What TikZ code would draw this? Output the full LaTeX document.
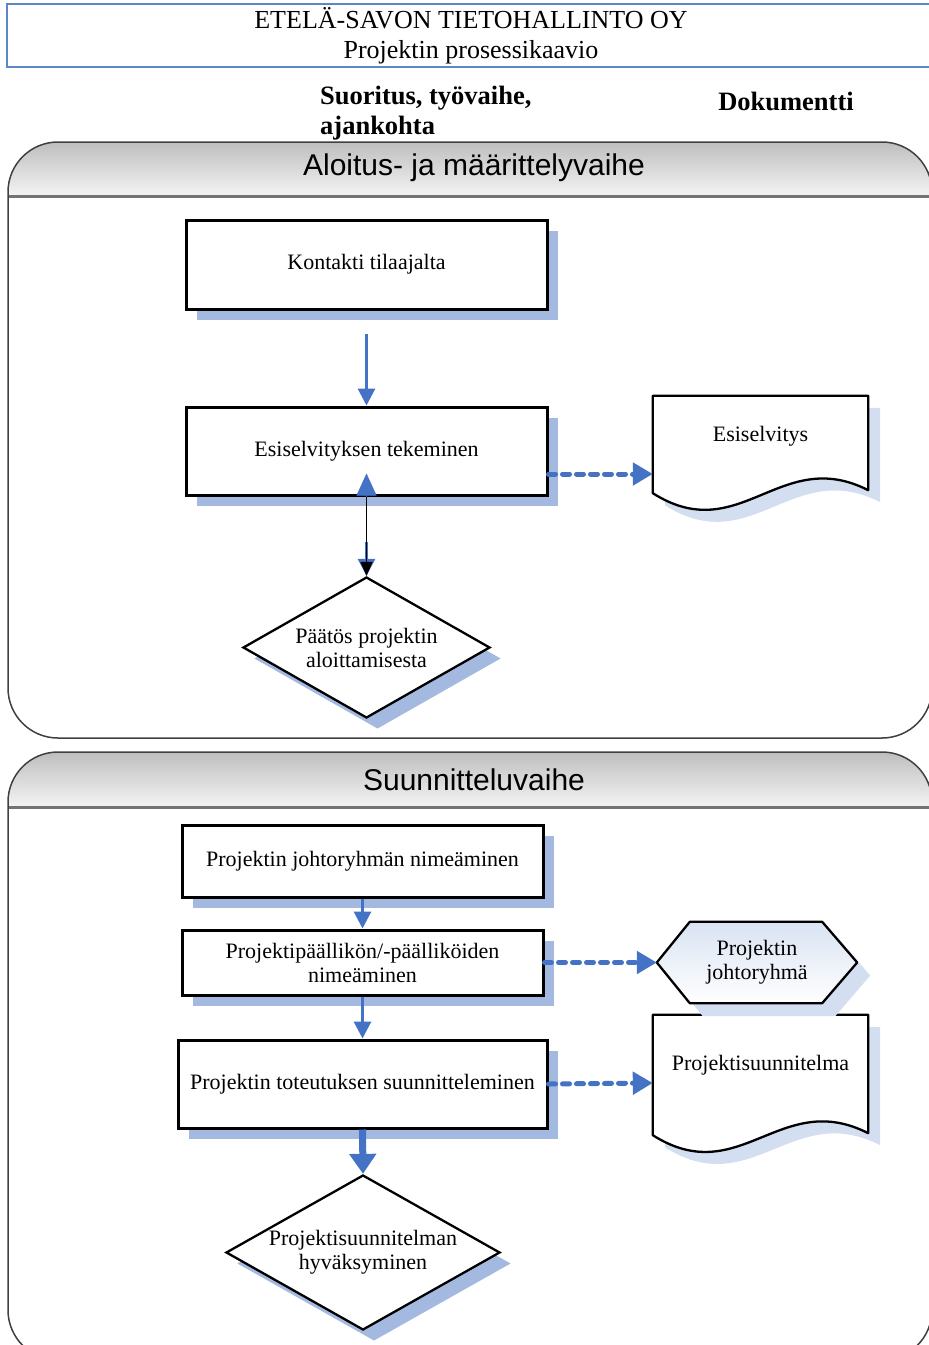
\documentclass[tikz,border=0pt]{standalone}
\usepackage{fontspec}
\setmainfont{Liberation Serif}
\newfontfamily\lanefont{Liberation Sans}
\usetikzlibrary{arrows.meta,calc,shadows,shapes.geometric}
\definecolor{arrowblue}{HTML}{4472C4}
\definecolor{shadowblue}{HTML}{A3B9E0}
\definecolor{docshadow}{HTML}{D3DEF1}
\definecolor{titleblue}{HTML}{5B87C8}
\definecolor{laneline}{HTML}{404040}
\definecolor{headtop}{HTML}{BEBEBE}
\definecolor{headbot}{HTML}{F4F4F4}
\definecolor{hextop}{HTML}{D9E3F3}
\newcommand\bxfont{\fontsize{22}{24}\selectfont}
\newcommand\ttlfont{\fontsize{26}{30}\selectfont}
\newcommand\colfont{\bfseries\fontsize{26.5}{30}\selectfont}
\newcommand\lnfont{\lanefont\fontsize{30}{32}\selectfont}
\pgfdeclarelayer{lanes}
\pgfdeclarelayer{shapes}
\pgfsetlayers{lanes,shapes,main}
\tikzset{
 procbox/.style={draw=black, line width=3pt, fill=white, align=center, font=\bxfont, inner sep=2pt,
   drop shadow={shadow xshift=11pt, shadow yshift=-11pt, fill=shadowblue, opacity=1}},
 decision/.style={diamond, draw=black, line width=2.3pt, fill=white, inner sep=0pt,
   drop shadow={shadow xshift=11pt, shadow yshift=-11pt, fill=shadowblue, opacity=1}},
 docnode/.style={rectangle, inner sep=0pt},
 docshape/.style={draw=black, line width=2.3pt, fill=white, line join=round,
   preaction={fill=docshadow, transform canvas={shift={(12pt,-12pt)}}}},
 hexshape/.style={draw=black, line width=2.3pt, top color=hextop, bottom color=white, line join=round,
   preaction={fill=docshadow, transform canvas={shift={(13pt,-13pt)}}}},
 flowarrow/.style={color=arrowblue, line width=3pt, -{Triangle[width=17pt,length=17pt]}},
 bigarrow/.style={color=arrowblue, line width=7pt, -{Triangle[width=26pt,length=20pt]}},
 docarrow/.style={color=arrowblue, line width=5pt, line cap=round, dash pattern=on 7pt off 7pt,
   -{Triangle[width=22pt,length=20pt]}},
 blackarrow/.style={color=black, line width=1.6pt, -{Triangle[width=12pt,length=14pt]}},
 lanebox/.style={draw=laneline, line width=1.5pt, rounded corners=50pt},
 lanesep/.style={draw=black!55, line width=3pt},
}
\begin{document}
\begin{tikzpicture}[x=1pt,y=-1pt]
\useasboundingbox (0,0) rectangle (929,1345);
\clip (0,0) rectangle (929,1345);

% title
\node[draw=titleblue, line width=1.4pt, minimum width=928pt, minimum height=63pt, inner sep=0pt,
  align=center, font=\ttlfont] (title) at (471,35.5) {ETELÄ-SAVON TIETOHALLINTO OY\\Projektin prosessikaavio};

% column headings
\node[font=\colfont, align=left, anchor=north west, inner sep=0pt] (colA) at (320,86) {Suoritus, työvaihe,\\ajankohta};
\node[font=\colfont, inner sep=0pt] (colB) at (786,101) {Dokumentti};

% lanes
\begin{pgfonlayer}{lanes}
\begin{scope}
 \clip[rounded corners=50pt] (8,142) rectangle (932,738);
 \shade[top color=headtop, bottom color=headbot] (8,142) rectangle (932,196);
\end{scope}
\draw[lanesep] (8,196) -- (932,196);
\draw[lanebox] (8,142) rectangle (932,738);
\begin{scope}
 \clip[rounded corners=50pt] (8,752) rectangle (932,1360);
 \shade[top color=headtop, bottom color=headbot] (8,752) rectangle (932,807);
\end{scope}
\draw[lanesep] (8,807) -- (932,807);
\draw[lanebox] (8,752) rectangle (932,1360);
\end{pgfonlayer}
\node[font=\lnfont] (lane1) at (474,168) {Aloitus- ja määrittelyvaihe};
\node[font=\lnfont] (lane2) at (474,780) {Suunnitteluvaihe};

% lane 1 nodes
\node[procbox, minimum width=361pt, minimum height=89pt] (kontakti) at (366.5,264.5) {Kontakti tilaajalta};
\node[procbox, minimum width=361pt, minimum height=88pt] (esi) at (366.5,451) {Esiselvityksen tekeminen};
\node[decision, minimum width=247pt, minimum height=141pt,
  label={[align=center, font=\bxfont]center:Päätös projektin\\aloittamisesta}] (dec1) at (366.5,647.5) {};
\node[docnode, minimum width=215pt, minimum height=97pt,
  label={[font=\bxfont, yshift=8.5pt]center:Esiselvitys}] (doc1) at (760.5,444.5) {};

% lane 2 nodes
\node[procbox, minimum width=361pt, minimum height=72pt] (johto) at (362.5,861) {Projektin johtoryhmän nimeäminen};
\node[procbox, minimum width=361pt, minimum height=65pt] (pp) at (362.5,962.5) {Projektipäällikön/-päälliköiden\\nimeäminen};
\node[procbox, minimum width=369pt, minimum height=88pt] (tot) at (362.5,1084) {Projektin toteutuksen suunnitteleminen};
\node[decision, minimum width=274pt, minimum height=155pt,
  label={[align=center, font=\bxfont]center:Projektisuunnitelman\\hyväksyminen}] (dec2) at (363,1252.5) {};
\node[docnode, minimum width=200pt, minimum height=81pt, align=center, font=\bxfont] (hex) at (757,962.5) {Projektin\\johtoryhmä};
\node[docnode, minimum width=215pt, minimum height=120pt,
  label={[font=\bxfont, yshift=10pt]center:Projektisuunnitelma}] (doc2) at (760.5,1075) {};

% document and hexagon outlines
\begin{pgfonlayer}{shapes}
\path[docshape] (doc1.north west) -- (doc1.north east) -- ($(doc1.south east)+(0,-3)$)
  .. controls ($(doc1.south east)+(-88,-48)$) and ($(doc1.south west)+(87,55)$) .. (doc1.south west) -- cycle;
\path[docshape] (doc2.north west) -- (doc2.north east) -- ($(doc2.south east)+(0,-2)$)
  .. controls ($(doc2.south east)+(-88,-47)$) and ($(doc2.south west)+(87,55)$) .. (doc2.south west) -- cycle;
\path[hexshape] (hex.west) -- ($(hex.north west)+(33,0)$) -- ($(hex.north east)+(-35,0)$) -- (hex.east)
  -- ($(hex.south east)+(-35,0)$) -- ($(hex.south west)+(33,0)$) -- cycle;
\end{pgfonlayer}

% connectors lane 1
\draw[flowarrow] ($(kontakti.south)+(0,23)$) -- (esi.north);
\draw[docarrow] ($(esi.east)+(0,23)$) -- ($(doc1.west)+(0,29.5)$);
\draw[color=arrowblue, line width=0.5pt, -{Triangle[width=20pt,length=22pt]}] ($(esi.south)+(0,2)$) -- ($(esi.south)+(0,-23)$);
\draw[flowarrow] ($(dec1.north)+(0,-34)$) -- (dec1.north);
\draw[blackarrow] (esi.south) -- (dec1.north);

% connectors lane 2
\draw[flowarrow] (johto.south) -- (pp.north);
\draw[flowarrow] (pp.south) -- (tot.north);
\draw[bigarrow] (tot.south) -- (dec2.north);
\draw[docarrow] (pp.east) -- (hex.west);
\draw[docarrow] (tot.east) -- ($(doc2.west)+(0,8)$);
\end{tikzpicture}
\end{document}
